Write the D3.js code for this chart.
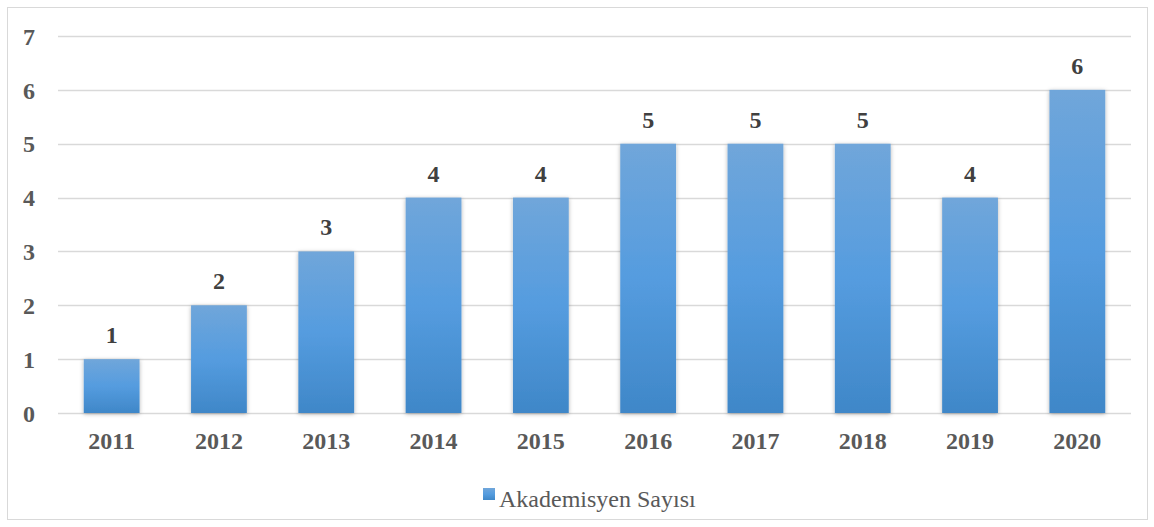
<!DOCTYPE html>
<html>
<head>
<meta charset="utf-8">
<script src="https://cdn.jsdelivr.net/npm/d3@7"></script>
<style>
  body { margin: 0; background: #fff; }
  svg text { font-family: "Liberation Serif", "Times New Roman", serif; }
</style>
</head>
<body>
<div id="chart"></div>
<script>
// Chart data
const years = ['2011', '2012', '2013', '2014', '2015', '2016', '2017', '2018', '2019', '2020'];
const counts = [1, 2, 3, 4, 4, 5, 5, 5, 4, 6];
const yTicks = [0, 1, 2, 3, 4, 5, 6, 7];
const seriesName = 'Akademisyen Sayısı';

const W = 1154, H = 527;
const margin = { top: 36, right: 23, bottom: 114, left: 58 };
const width = W - margin.left - margin.right;
const height = H - margin.top - margin.bottom;
const FONT = '"Liberation Serif", "Times New Roman", serif';

const svg = d3.select('#chart').append('svg')
    .attr('width', W)
    .attr('height', H);

// gradient + shadow for the bars
const defs = svg.append('defs');
const grad = defs.append('linearGradient')
    .attr('id', 'barGrad')
    .attr('x1', 0).attr('y1', 0).attr('x2', 0).attr('y2', 1);
grad.append('stop').attr('offset', '0%').attr('stop-color', '#70a6da');
grad.append('stop').attr('offset', '50%').attr('stop-color', '#559cdf');
grad.append('stop').attr('offset', '100%').attr('stop-color', '#3f87c8');

const shadow = defs.append('filter')
    .attr('id', 'shadow')
    .attr('x', '-20%').attr('y', '-10%').attr('width', '140%').attr('height', '130%');
shadow.append('feDropShadow')
    .attr('dx', 0).attr('dy', 1)
    .attr('stdDeviation', 2)
    .attr('flood-color', '#000')
    .attr('flood-opacity', 0.3);

// outer border
svg.append('rect')
    .attr('x', 7.5).attr('y', 7.5)
    .attr('width', 1140).attr('height', 512)
    .attr('fill', 'none')
    .attr('stroke', '#d9d9d9');

const g = svg.append('g')
    .attr('transform', `translate(${margin.left},${margin.top})`);

const x = d3.scaleBand()
    .domain(years)
    .range([0, width])
    .paddingInner(0.48)
    .paddingOuter(0.24);

const y = d3.scaleLinear()
    .domain([0, 7])
    .range([height, 0]);

// gridlines
g.selectAll('.grid')
    .data(yTicks)
    .enter()
    .append('line')
    .attr('x1', 0)
    .attr('x2', width)
    .attr('y1', d => Math.round(y(d)) + 0.5)
    .attr('y2', d => Math.round(y(d)) + 0.5)
    .attr('stroke', '#d9d9d9')
    .attr('stroke-width', d => d === 0 ? 1.5 : 1.3);

// y axis labels
const yAxis = g.append('g')
    .attr('font-family', FONT)
    .call(d3.axisLeft(y).tickValues(yTicks).tickSize(0).tickPadding(23).tickFormat(d3.format('d')));
yAxis.select('.domain').remove();
yAxis.selectAll('text')
    .attr('fill', '#595959')
    .attr('dy', '0.34em')
    .style('font-size', '24px')
    .style('font-weight', 'bold')
    .style('font-family', FONT);

// bars
g.selectAll('.bar')
    .data(counts)
    .enter()
    .append('rect')
    .attr('class', 'bar')
    .attr('x', (d, i) => x(years[i]))
    .attr('y', d => y(d))
    .attr('width', x.bandwidth())
    .attr('height', d => height - y(d))
    .attr('fill', 'url(#barGrad)')
    .attr('filter', 'url(#shadow)');

// value labels
g.selectAll('.value')
    .data(counts)
    .enter()
    .append('text')
    .attr('x', (d, i) => x(years[i]) + x.bandwidth() / 2)
    .attr('y', d => y(d) - 16)
    .attr('text-anchor', 'middle')
    .attr('fill', '#404040')
    .style('font-size', '24px')
    .style('font-weight', 'bold')
    .style('font-family', FONT)
    .text(d => d);

// x axis labels
const xAxis = g.append('g')
    .attr('transform', `translate(0,${height})`)
    .call(d3.axisBottom(x).tickSize(0).tickPadding(0));
xAxis.select('.domain').remove();
xAxis.selectAll('text')
    .attr('y', 36)
    .attr('dy', 0)
    .attr('fill', '#595959')
    .style('font-size', '24px')
    .style('font-weight', 'bold')
    .style('font-family', FONT);

// legend
const legend = svg.append('g')
    .attr('transform', 'translate(483,488)');
legend.append('rect')
    .attr('width', 12).attr('height', 12)
    .attr('fill', 'url(#barGrad)');
legend.append('text')
    .attr('x', 16)
    .attr('y', 19)
    .attr('fill', '#595959')
    .style('font-size', '24px')
    .style('font-family', FONT)
    .text(seriesName);
</script>
</body>
</html>
